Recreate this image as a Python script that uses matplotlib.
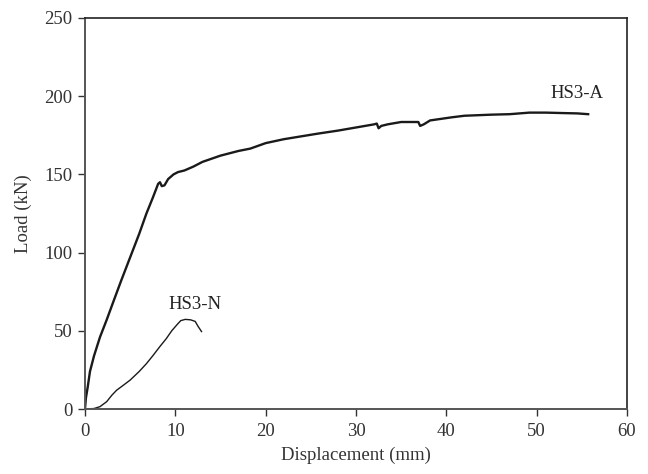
import matplotlib
matplotlib.use("Agg")
import matplotlib.pyplot as plt

# HS3-A load-displacement curve
hs3a_x = [0, 0.1, 0.3, 0.55, 1.0, 1.66, 2.4, 3.1, 4.0, 5.0, 6.0, 6.8, 7.5, 7.9, 8.1, 8.3,
          8.5, 8.8, 9.2, 9.8, 10.3, 11.0, 12.0, 13.0, 15.0, 17.0, 18.3, 20.0, 22.0, 25.7,
          28.0, 30.0, 32.0, 32.3, 32.5, 32.8, 33.5, 35.0, 36.9, 37.1, 37.5, 38.2, 40.6,
          42.0, 45.0, 47.0, 49.2, 51.0, 53.0, 54.5, 55.7]
hs3a_y = [0, 7, 14, 24, 34, 46, 57, 68, 82, 97, 112, 125, 135, 141, 144, 145,
          142.5, 143, 147, 150, 151.5, 152.5, 155, 158, 162, 165, 166.5, 170, 172.5, 176,
          178, 180, 182, 182.5, 179.5, 181, 182, 183.5, 183.5, 181, 182, 184.5, 186.5,
          187.5, 188.2, 188.5, 189.5, 189.5, 189.2, 189, 188.5]

# HS3-N load-displacement curve
hs3n_x = [0, 1.0, 1.66, 2.4, 3.0, 3.5, 4.2, 5.0, 6.0, 6.8, 7.5, 8.3, 9.0, 9.6, 10.2,
          10.6, 11.1, 11.7, 12.2, 12.5, 12.9]
hs3n_y = [0, 0.3, 1.5, 4.7, 9, 12, 15, 18.5, 24, 29, 34, 40, 45, 50, 54,
          56.5, 57.3, 57, 56, 53, 49.5]

x_ticks = [0, 10, 20, 30, 40, 50, 60]
y_ticks = [0, 50, 100, 150, 200, 250]

plt.rcParams['font.family'] = ['Liberation Serif', 'DejaVu Serif']

fig = plt.figure(figsize=(6.48, 4.74), dpi=100)
ax = fig.add_axes([85/648, 1 - 409/474, (627-85)/648, (409-18)/474])

ax.plot(hs3a_x, hs3a_y, color='#1a1a1a', lw=1.7)
ax.plot(hs3n_x, hs3n_y, color='#1a1a1a', lw=1.0)

fs = 13.5
ax.text(54.5, 201.5, 'HS3-A', fontsize=fs, ha='center', va='center', color='#222222')
ax.text(12.2, 67, 'HS3-N', fontsize=fs, ha='center', va='center', color='#222222')

ax.set_xlim(0, 60)
ax.set_ylim(0, 250)
ax.set_xticks(x_ticks)
ax.set_yticks(y_ticks)
ax.tick_params(axis='both', direction='out', length=5, width=1, labelsize=fs,
               colors='#333333', pad=4)
ax.tick_params(axis='x', pad=5)
for s in ['top', 'right']:
    ax.spines[s].set_color('#222222')
    ax.spines[s].set_linewidth(1.2)
for s in ['left', 'bottom']:
    ax.spines[s].set_color('#555555')
    ax.spines[s].set_linewidth(1.4)

ax.set_xlabel('Displacement (mm)', fontsize=fs, color='#333333', labelpad=5)
ax.set_ylabel('Load (kN)', fontsize=fs, color='#333333', labelpad=9)

fig.savefig('out.png', dpi=100)
